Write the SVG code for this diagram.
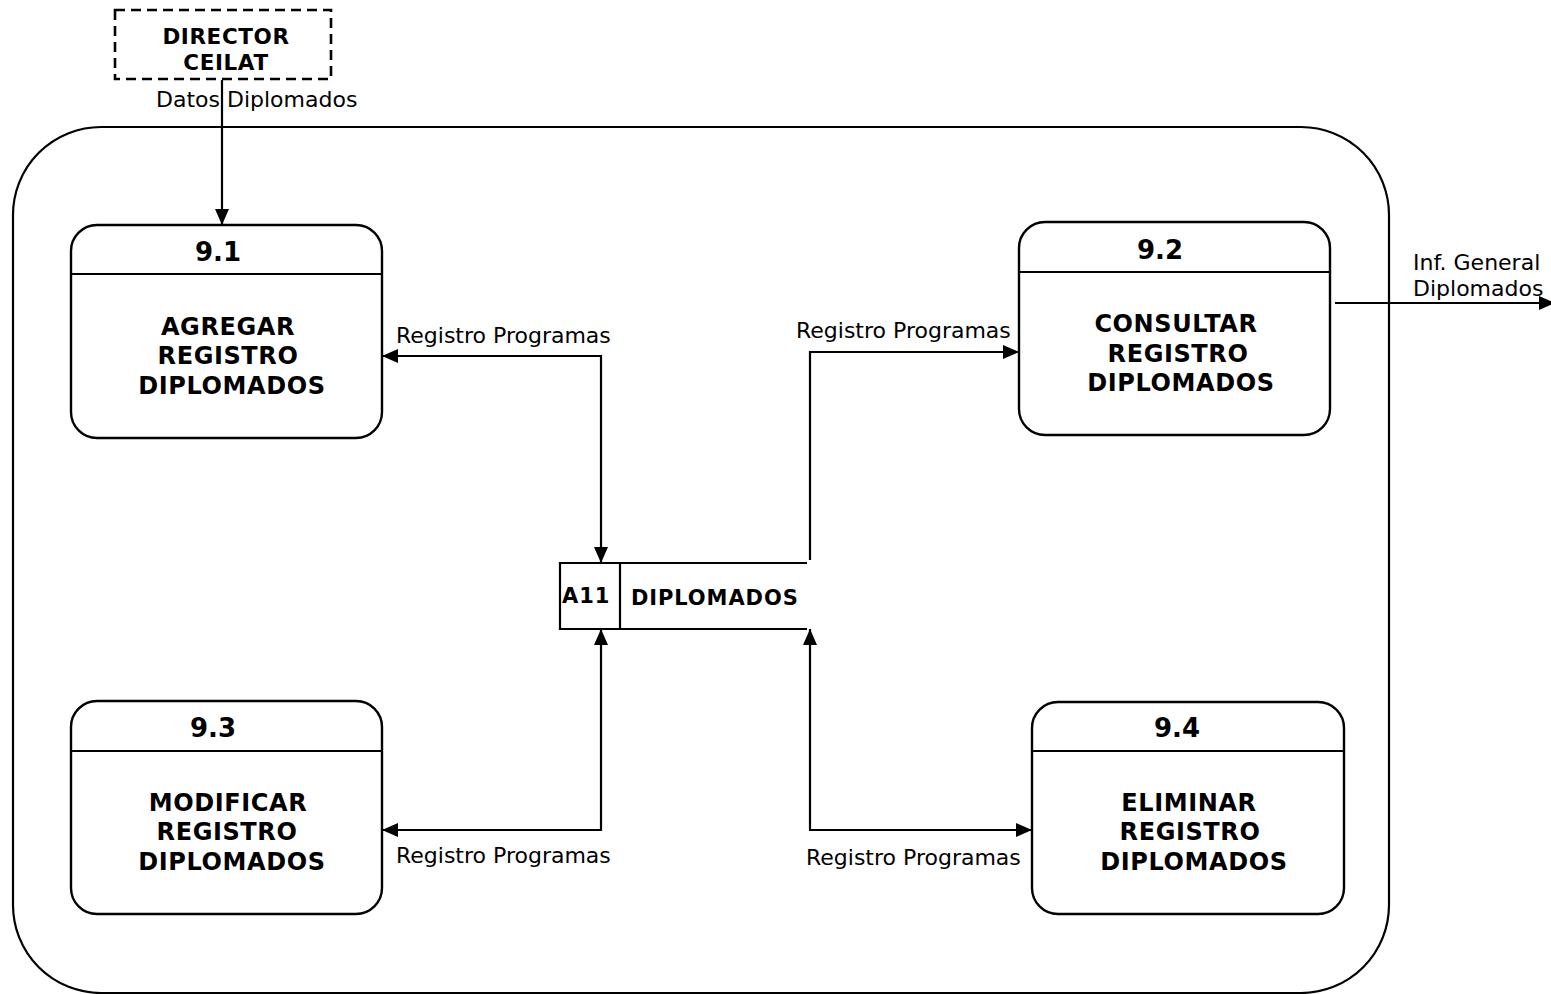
<svg xmlns="http://www.w3.org/2000/svg" width="1551" height="994" viewBox="0 0 1551 994">
  <style>
    .frame { fill: none; stroke: #000; stroke-width: 2.2; }
    .box { fill: #fff; stroke: #000; stroke-width: 2.4; }
    .line { fill: none; stroke: #000; stroke-width: 2.2; }
    .conn { fill: none; stroke: #000; stroke-width: 2.2; }
    .num { font-family: "DejaVu Sans", Verdana, sans-serif; font-weight: bold; font-size: 26px; text-anchor: middle; }
    .title { font-family: "DejaVu Sans", Verdana, sans-serif; font-weight: bold; font-size: 24px; letter-spacing: 0.6px; text-anchor: middle; }
    .ext { font-family: "DejaVu Sans", Verdana, sans-serif; font-weight: bold; font-size: 21.5px; letter-spacing: 0.6px; text-anchor: middle; }
    .store { font-family: "DejaVu Sans", Verdana, sans-serif; font-weight: bold; font-size: 21px; letter-spacing: 0.9px; }
    .lbl { font-family: "DejaVu Sans", Verdana, sans-serif; font-size: 22px; }
  </style>
  <defs>
    <marker id="arr" viewBox="0 0 16 14" refX="16" refY="7" markerWidth="16" markerHeight="14" markerUnits="userSpaceOnUse" orient="auto-start-reverse">
      <path d="M0,0 L16,7 L0,14 Z" fill="#000"/>
    </marker>
  </defs>
  <rect x="0" y="0" width="1551" height="994" fill="#fff"/>

  <g id="boundary">
    <rect class="frame" x="13" y="127" width="1376" height="866" rx="88" ry="88"/>
  </g>

  <g id="director">
    <rect x="115" y="10" width="216" height="69" fill="#fff" stroke="#000" stroke-width="2.6" stroke-dasharray="10 6"/>
    <text class="ext" x="226" y="44">DIRECTOR</text>
    <text class="ext" x="226" y="70">CEILAT</text>
  </g>

  <g id="p91">
    <rect class="box" x="71" y="225" width="311" height="213" rx="26" ry="26"/>
    <line class="line" x1="71" y1="274" x2="382" y2="274"/>
    <text class="num" x="218" y="261">9.1</text>
    <text class="title" x="228" y="335">AGREGAR</text>
    <text class="title" x="228" y="364">REGISTRO</text>
    <text class="title" x="232" y="394">DIPLOMADOS</text>
  </g>

  <g id="p92">
    <rect class="box" x="1019" y="222" width="311" height="213" rx="26" ry="26"/>
    <line class="line" x1="1019" y1="272" x2="1330" y2="272"/>
    <text class="num" x="1160" y="259">9.2</text>
    <text class="title" x="1176" y="332">CONSULTAR</text>
    <text class="title" x="1178" y="362">REGISTRO</text>
    <text class="title" x="1181" y="391">DIPLOMADOS</text>
  </g>

  <g id="p93">
    <rect class="box" x="71" y="701" width="311" height="213" rx="26" ry="26"/>
    <line class="line" x1="71" y1="751" x2="382" y2="751"/>
    <text class="num" x="213" y="737">9.3</text>
    <text class="title" x="228" y="811">MODIFICAR</text>
    <text class="title" x="227" y="840">REGISTRO</text>
    <text class="title" x="232" y="870">DIPLOMADOS</text>
  </g>

  <g id="p94">
    <rect class="box" x="1032" y="702" width="312" height="212" rx="26" ry="26"/>
    <line class="line" x1="1032" y1="751" x2="1344" y2="751"/>
    <text class="num" x="1177" y="737">9.4</text>
    <text class="title" x="1189" y="811">ELIMINAR</text>
    <text class="title" x="1190" y="840">REGISTRO</text>
    <text class="title" x="1194" y="870">DIPLOMADOS</text>
  </g>

  <g id="a11">
    <path class="line" d="M807,563 L560,563 L560,629 L807,629"/>
    <line class="line" x1="620" y1="563" x2="620" y2="629"/>
    <text class="store" x="562" y="603">A11</text>
    <text class="store" x="631" y="605">DIPLOMADOS</text>
  </g>

  <g id="connectors">
    <path class="conn" d="M222,80 L222,225" marker-end="url(#arr)"/>
    <path class="conn" d="M601,563 L601,356 L382,356" marker-start="url(#arr)" marker-end="url(#arr)"/>
    <path class="conn" d="M810,560 L810,352 L1019,352" marker-end="url(#arr)"/>
    <path class="conn" d="M601,629 L601,830 L382,830" marker-start="url(#arr)" marker-end="url(#arr)"/>
    <path class="conn" d="M810,629 L810,830 L1032,830" marker-start="url(#arr)" marker-end="url(#arr)"/>
    <path class="conn" d="M1335,303 L1555,303" marker-end="url(#arr)"/>
  </g>

  <g id="labels">
    <text class="lbl" x="156" y="107">Datos Diplomados</text>
    <text class="lbl" x="396" y="343">Registro Programas</text>
    <text class="lbl" x="796" y="338">Registro Programas</text>
    <text class="lbl" x="396" y="863">Registro Programas</text>
    <text class="lbl" x="806" y="865">Registro Programas</text>
    <text class="lbl" x="1413" y="270">Inf. General</text>
    <text class="lbl" x="1413" y="296">Diplomados</text>
  </g>
</svg>
